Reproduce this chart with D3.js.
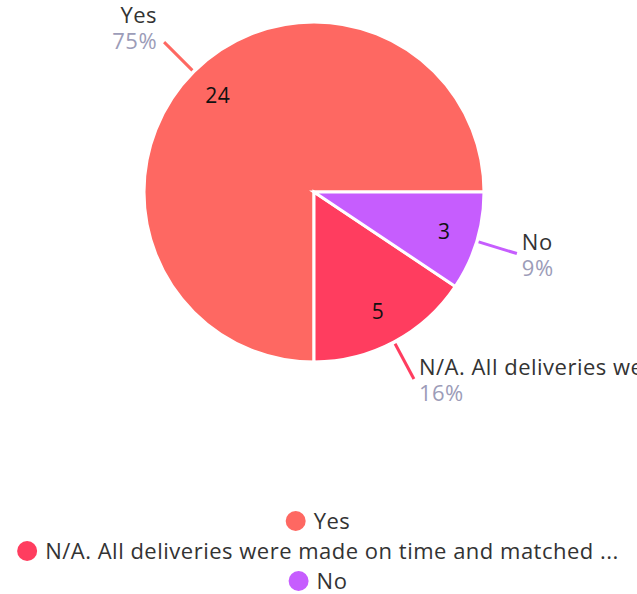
<!DOCTYPE html>
<html>
<head>
<meta charset="utf-8">
<script src="https://cdn.jsdelivr.net/npm/d3@7"></script>
<style>
  body { margin: 0; background: #fff; }
  text { font-family: "Open Sans", sans-serif; letter-spacing: 0.5px; }
</style>
</head>
<body>
<div id="chart"></div>
<script>
// chart data
const categories = ["Yes", "N/A. All deliveries were made on time and matched ...", "No"];
const counts = [24, 5, 3];
const percents = ["75%", "16%", "9%"];
const colors = ["#fe6862", "#ff3d5f", "#c65dfe"];

const width = 637, height = 594;
const cx = 314, cy = 192, radius = 170;
const fs = "22px";

const svg = d3.select("#chart").append("svg")
  .attr("width", width)
  .attr("height", height);

const g = svg.append("g").attr("transform", `translate(${cx},${cy})`);

const pie = d3.pie()
  .sort(null)
  .startAngle(Math.PI / 2)
  .endAngle(Math.PI / 2 - 2 * Math.PI);

const arcs = pie(counts);
const arc = d3.arc().innerRadius(0).outerRadius(radius);

g.selectAll("path.slice")
  .data(arcs)
  .enter().append("path")
  .attr("class", "slice")
  .attr("d", arc)
  .attr("fill", (d, i) => colors[i])
  .attr("stroke", "#fff")
  .attr("stroke-width", 3);

// values inside slices
const inner = d3.arc().innerRadius(radius * 0.8).outerRadius(radius * 0.8);
g.selectAll("text.val")
  .data(arcs)
  .enter().append("text")
  .attr("class", "val")
  .attr("transform", d => `translate(${inner.centroid(d)})`)
  .attr("text-anchor", "middle")
  .attr("dy", "0.35em")
  .style("font-size", "21px")
  .attr("fill", "#111")
  .text(d => d.data);

// leader lines + outside labels
const mid = d => (d.startAngle + d.endAngle) / 2;
const pt = (a, r) => [Math.sin(a) * r, -Math.cos(a) * r];

arcs.forEach((d, i) => {
  const a = mid(d);
  const p0 = pt(a, radius + 2), p1 = pt(a, radius + 42);
  g.append("line")
    .attr("x1", p0[0]).attr("y1", p0[1])
    .attr("x2", p1[0]).attr("y2", p1[1])
    .attr("stroke", colors[i])
    .attr("stroke-width", 3);

  const right = Math.sin(a) > 0;
  const tx = p1[0] + (right ? 5 : -7);
  const ty = p1[1] + (Math.cos(a) > 0 ? -19 : -4);
  const lab = g.append("text")
    .attr("text-anchor", right ? "start" : "end")
    .style("font-size", fs);
  lab.append("tspan").attr("x", tx).attr("y", ty).attr("fill", "#333").text(categories[i]);
  lab.append("tspan").attr("x", tx).attr("y", ty + 26).attr("fill", "#9c9cb8").text(percents[i]);
});

// legend
const legend = svg.append("g");
categories.forEach((c, i) => {
  const row = legend.append("g").attr("transform", `translate(0,${521 + i * 30})`);
  const t = row.append("text")
    .attr("dy", "0.35em")
    .style("font-size", fs)
    .attr("fill", "#333")
    .text(c);
  const w = t.node().getComputedTextLength();
  const total = 20 + 8 + w;
  const x0 = 318 - total / 2;
  row.append("circle").attr("cx", x0 + 10).attr("cy", 0).attr("r", 10).attr("fill", colors[i]);
  t.attr("x", x0 + 28);
});
</script>
</body>
</html>
